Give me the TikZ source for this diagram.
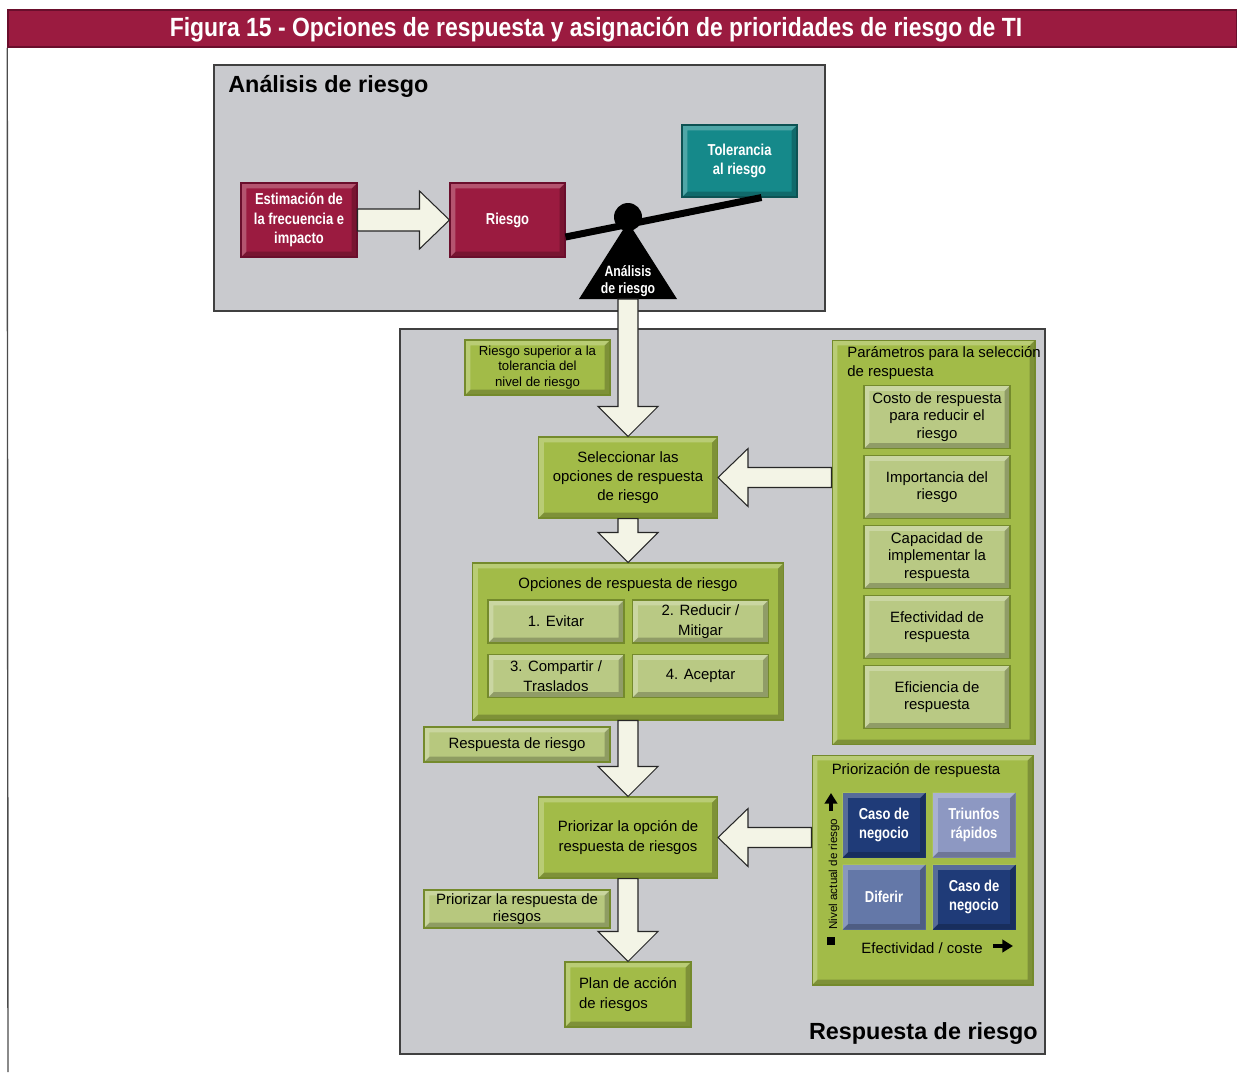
\documentclass[tikz,border=0pt]{standalone}
\usepackage{fontspec}
\setmainfont{Liberation Sans}
\newfontfamily\narrowfont[FakeStretch=0.82]{Liberation Sans}
\newfontfamily\titlefont[FakeStretch=0.87]{Liberation Sans}
\usetikzlibrary{calc,arrows.meta}

\definecolor{wine}{HTML}{9B1B40}
\definecolor{winedark}{HTML}{6A0E2C}
\definecolor{tealbox}{HTML}{15898A}
\definecolor{panelgray}{HTML}{C9CACE}
\definecolor{riskgreen}{HTML}{A2BB48}
\definecolor{lightgreen}{HTML}{B9C984}
\definecolor{greenedge}{HTML}{748A2C}
\definecolor{navybox}{HTML}{1F3B78}
\definecolor{slatebox}{HTML}{6478A8}
\definecolor{palebox}{HTML}{8D98C2}
\definecolor{arrowfill}{HTML}{F3F4E6}

% block arrows: from #1 to the tip #2
\newcommand{\downblock}[2]{\draw[block arrow] ($(#1)+(-10,0)$) -- ($(#2)+(-10,-30)$) -- ($(#2)+(-30,-30)$) -- (#2) -- ($(#2)+(30,-30)$) -- ($(#2)+(10,-30)$) -- ($(#1)+(10,0)$) -- cycle;}
\newcommand{\leftblock}[2]{\draw[block arrow] ($(#1)+(0,-10)$) -- ($(#2)+(30,-10)$) -- ($(#2)+(30,-29)$) -- (#2) -- ($(#2)+(30,29)$) -- ($(#2)+(30,10)$) -- ($(#1)+(0,10)$) -- cycle;}
\newcommand{\rightblock}[2]{\draw[block arrow] ($(#1)+(0,-11)$) -- ($(#2)+(-30,-11)$) -- ($(#2)+(-30,-29)$) -- (#2) -- ($(#2)+(-30,29)$) -- ($(#2)+(-30,11)$) -- ($(#1)+(0,11)$) -- cycle;}

\begin{document}
\begin{tikzpicture}[x=0.02cm, y=-0.02cm, font=\fontsize{8.5}{11}\selectfont]
    \tikzstyle{panel}=[draw=black!75, fill=panelgray, line width=0.8pt, inner sep=0pt]
    \tikzstyle{panel title}=[font=\fontsize{13.3}{16}\selectfont\bfseries, inner sep=0pt]
    \tikzstyle{bevel}=[path picture={
        \fill[black, opacity=0.22] (path picture bounding box.south west) -- (path picture bounding box.south east) -- (path picture bounding box.north east) -- ([shift={(-3pt,-3pt)}]path picture bounding box.north east) -- ([shift={(-3pt,3pt)}]path picture bounding box.south east) -- ([shift={(3pt,3pt)}]path picture bounding box.south west) -- cycle;
        \fill[white, opacity=0.25] (path picture bounding box.south west) -- (path picture bounding box.north west) -- (path picture bounding box.north east) -- ([shift={(-3pt,-3pt)}]path picture bounding box.north east) -- ([shift={(3pt,-3pt)}]path picture bounding box.north west) -- ([shift={(3pt,3pt)}]path picture bounding box.south west) -- cycle;}]
    \tikzstyle{box}=[bevel, fill=riskgreen, draw=greenedge, line width=0.6pt, align=center, inner sep=2pt]
    \tikzstyle{inner box}=[box, fill=lightgreen]
    \tikzstyle{red box}=[box, fill=wine, draw=winedark, text=white, font=\narrowfont\fontsize{9}{11}\selectfont\bfseries, minimum width=2.32cm, minimum height=1.48cm]
    \tikzstyle{matrix box}=[box, draw=none, text=white, font=\narrowfont\fontsize{9}{11}\selectfont\bfseries, minimum width=1.66cm, minimum height=1.3cm]
    \tikzstyle{block arrow}=[fill=arrowfill, draw=black!85, line width=0.6pt, line join=miter]
    \tikzstyle{axis arrow}=[-{Triangle[width=7pt,length=6pt]}, line width=2.4pt]
    \useasboundingbox (0,0) rectangle (1237,1072);

    % Title bar and frame
    \node[fill=wine, draw=winedark, line width=1pt, minimum width=24.58cm, minimum height=0.74cm] (title) at (622.5,28.5) {};
    \node[text=white, font=\titlefont\fontsize{15}{17}\selectfont\bfseries] at (596,30) {Figura 15 - Opciones de respuesta y asignación de prioridades de riesgo de TI};
    \draw[black!70, line width=0.8pt] (title.south west) -- (8,1072);

    % Draw the two panels
    \node[panel, minimum width=12.22cm, minimum height=4.92cm] (analisis) at (519.5,188) {};
    \node[panel, minimum width=12.9cm, minimum height=14.5cm] (respuesta) at (722.5,691.5) {};
    \node[panel title, anchor=west] at (228,86) {Análisis de riesgo};
    \node[panel title, anchor=east] at (1038,1033) {Respuesta de riesgo};

    % Analysis of risk
    \node[red box] (est) at (299,220) {Estimación de\\la frecuencia e\\impacto};
    \node[red box, minimum width=2.3cm] (riesgo) at (507.5,220) {Riesgo};
    \node[red box, fill=tealbox, draw=tealbox!60!black, minimum width=2.3cm, minimum height=1.44cm] (tol) at (739.5,161) {Tolerancia\\al riesgo};
    \draw[line width=0.14cm] ($(riesgo.east)+(0,17)$) -- ($(tol.south)+(22,0)$);
    \fill[black] (628,222) -- (677,299) -- (579,299) -- cycle;
    \node[circle, fill=black, minimum size=0.56cm, inner sep=0pt] (pivot) at (628,217) {};
    \node[text=white, align=center, font=\narrowfont\fontsize{8.5}{10}\selectfont\bfseries] (tri) at (628,281) {Análisis\\de riesgo};
    \coordinate (tri-base) at (628,299);

    % Response boxes
    \node[box, minimum width=2.9cm, minimum height=1.1cm, font=\fontsize{7.5}{9}\selectfont] (sup) at (537.5,367.5) {Riesgo superior a la\\tolerancia del\\nivel de riesgo};
    \node[box, minimum width=3.58cm, minimum height=1.62cm] (sel) at (628,477.5) {Seleccionar las\\opciones de respuesta\\de riesgo};
    \node[box, minimum width=6.22cm, minimum height=3.14cm] (opc) at (628,641.5) {};
    \node (opc-title) at (628,585) {Opciones de respuesta de riesgo};
    \foreach \name/\x/\y/\txt in {O-1/556/621.5/{1. Evitar}, O-2/700.5/621.5/{2. Reducir /\\Mitigar}, O-3/556/676/{3. Compartir /\\Traslados}, O-4/700.5/676/{4. Aceptar}}
        \node[inner box, minimum width=2.72cm, minimum height=0.86cm] (\name) at (\x,\y) {\txt};
    \node[box, fill=lightgreen!90!riskgreen, minimum width=3.72cm, minimum height=0.7cm] (resp) at (517,744.5) {Respuesta de riesgo};
    \node[box, minimum width=3.58cm, minimum height=1.62cm] (pri) at (628,837.5) {Priorizar la opción de\\respuesta de riesgos};
    \node[box, fill=lightgreen!90!riskgreen, minimum width=3.72cm, minimum height=0.76cm, font=\fontsize{8.5}{9.5}\selectfont] (prl) at (517,909) {Priorizar la respuesta de\\riesgos};
    \node[box, minimum width=2.52cm, minimum height=1.3cm, align=left] (plan) at (628,994.5) {Plan de acción\\de riesgos};

    % Parameters for the selection
    \node[box, minimum width=4.06cm, minimum height=8.1cm] (par) at (933.5,542.5) {};
    \node[anchor=north west, align=left, inner sep=0pt] (par-title) at (847,346) {Parámetros para la selección\\de respuesta};
    \foreach \i/\txt in {1/{Costo de respuesta\\para reducir el\\riesgo}, 2/{Importancia del\\riesgo}, 3/{Capacidad de\\implementar la\\respuesta}, 4/{Efectividad de\\respuesta}, 5/{Eficiencia de\\respuesta}}
        \node[inner box, minimum width=2.92cm, minimum height=1.26cm, font=\fontsize{8.5}{10}\selectfont] (P-\i) at (937,{347+70*\i}) {\txt};

    % Prioritization of the response
    \node[box, minimum width=4.42cm, minimum height=4.6cm] (prio) at (922.5,870) {};
    \node (prio-title) at (916,771) {Priorización de respuesta};
    \foreach \name/\x/\y/\col/\txt in {M-1/884/825/navybox/{Caso de\\negocio}, M-2/974/825/palebox/{Triunfos\\rápidos}, M-3/884/897/slatebox/{Diferir}, M-4/974/897/navybox/{Caso de\\negocio}}
        \node[matrix box, fill=\col] (\name) at (\x,\y) {\txt};
    \coordinate (ax-top) at (831,793);
    \coordinate (ax-bot) at (831,941);
    \draw[axis arrow] ($(ax-top)+(0,18)$) -- (ax-top);
    \node[fill=black, minimum size=5pt, inner sep=0pt] at (ax-bot) {};
    \node[rotate=90, font=\fontsize{6.6}{8}\selectfont, inner sep=0pt] (ylab) at (834,874) {Nivel actual de riesgo};
    \node (xlab) at (922,948) {Efectividad / coste};
    \coordinate (ax-right) at (1013,946);
    \draw[axis arrow] ($(ax-right)+(-20,0)$) -- (ax-right);

    % Connect the steps
    \rightblock{est.east}{riesgo.west}
    \downblock{tri-base}{sel.north}
    \downblock{sel.south}{opc.north}
    \downblock{opc.south}{pri.north}
    \downblock{pri.south}{plan.north}
    \leftblock{sel.east -| par.west}{sel.east}
    \leftblock{pri.east -| prio.west}{pri.east}
\end{tikzpicture}
\end{document}
